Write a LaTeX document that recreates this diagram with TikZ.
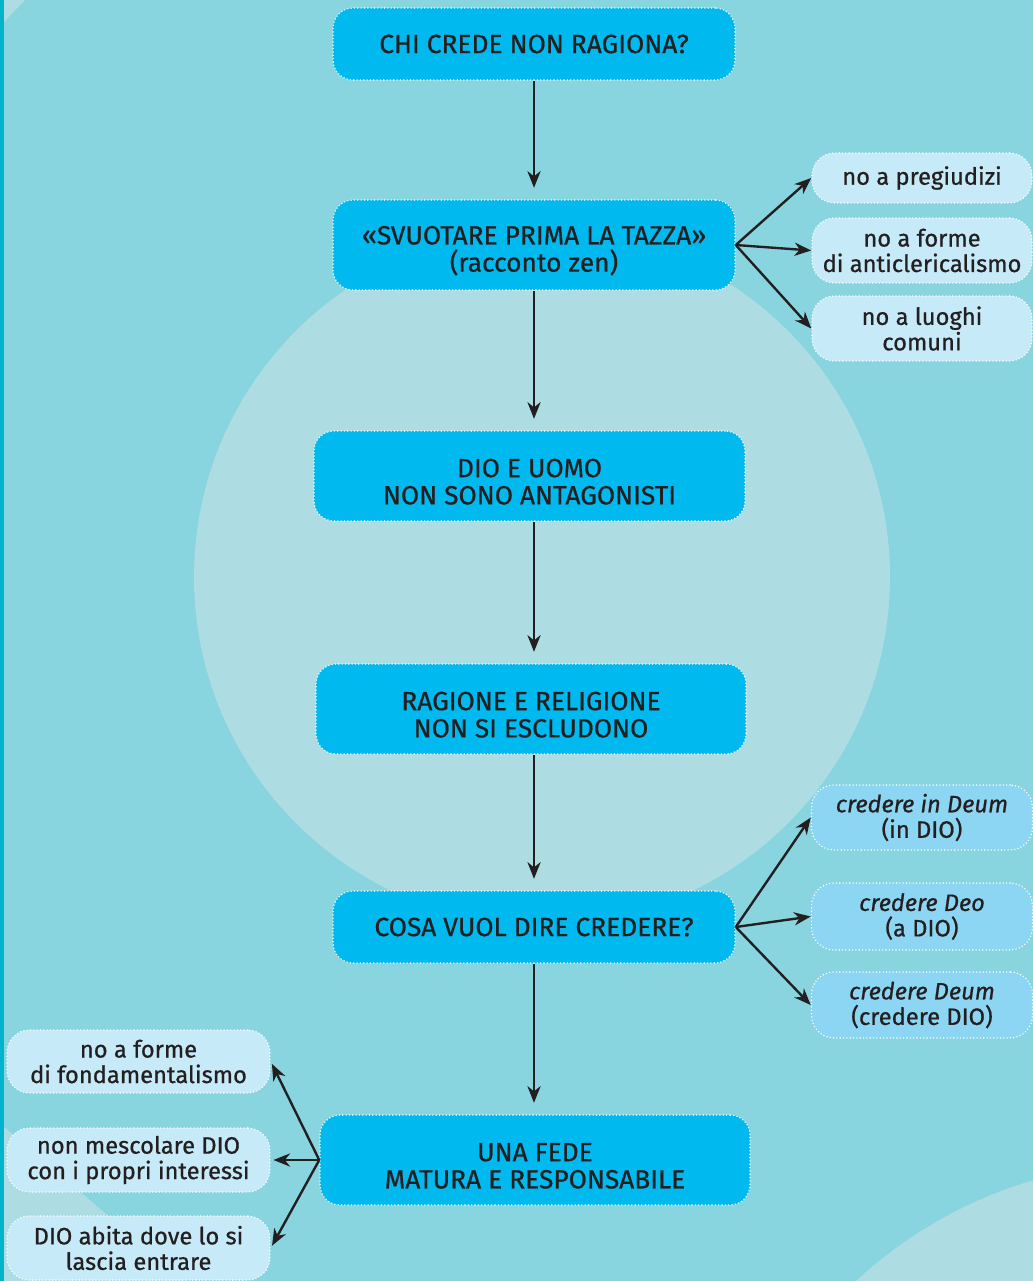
\documentclass[tikz,border=0pt]{standalone}
\usepackage{fontspec}
\setmainfont{Fira Sans}[FakeBold=0.7]
\usetikzlibrary{arrows.meta}
\definecolor{bgcyan}{HTML}{88D4DF}
\definecolor{lightcyan}{HTML}{ADDDE3}
\definecolor{stripcyan}{HTML}{00B4CC}
\definecolor{mainblue}{HTML}{00B9EF}
\definecolor{paleblue}{HTML}{C7EAF8}
\definecolor{midblue}{HTML}{8CD6F3}
\definecolor{ink}{HTML}{231F20}
\newcommand{\topgap}{\rule{0pt}{17pt}}
\begin{document}
\begin{tikzpicture}[x=0.02cm, y=-0.02cm, >={Stealth[length=9.5pt,width=7.5pt,inset=3pt]},
  line width=1.35pt, draw=ink,
  dotborder/.style={draw=white, line width=0.9pt, dash pattern=on 0pt off 1.9pt, line cap=round,
    align=center, text=ink, inner sep=0pt},
  mainbox/.style={dotborder, fill=mainblue, rounded corners=0.4cm, font=\fontsize{15}{15.5}\selectfont,
    minimum height=1.44cm},
  tallbox/.style={mainbox, minimum height=1.8cm},
  sidebox/.style={dotborder, fill=paleblue, rounded corners=0.45cm, font=\fontsize{13.5}{14.5}\selectfont},
  latinbox/.style={sidebox, fill=midblue}]
\useasboundingbox (0,0) rectangle (1033,1281);
% background
\fill[bgcyan] (0,0) rectangle (1033,1281);
\fill[lightcyan] (542,577) circle (348);
\fill[lightcyan] (4,22) -- (25,0) -- (4,0) -- cycle;
\fill[lightcyan] (4,1127) -- (185,1281) -- (4,1281) -- cycle;
\begin{scope}
  \clip (0,0) rectangle (1033,1281);
  \fill[lightcyan] (1160,1610) circle (448);
\end{scope}
\fill[stripcyan] (0,0) rectangle (4,1281);

% main column
\node[mainbox, minimum width=8.04cm] (q) at (534,44) {CHI CREDE NON RAGIONA?};
\node[tallbox, minimum width=8.04cm] (tazza) at (534,245) {\topgap«SVUOTARE PRIMA LA TAZZA»\\(racconto zen)};
\node[tallbox, minimum width=8.62cm] (dio) at (529.5,476) {\topgap DIO E UOMO\\NON SONO ANTAGONISTI};
\node[tallbox, minimum width=8.6cm] (ragione) at (531,709) {\topgap RAGIONE E RELIGIONE\\NON SI ESCLUDONO};
\node[mainbox, minimum width=8.04cm] (credere) at (534,927) {COSA VUOL DIRE CREDERE?};
\node[tallbox, minimum width=8.6cm] (fede) at (535,1160) {\topgap UNA FEDE\\MATURA E RESPONSABILE};

% side boxes
\node[sidebox, minimum width=4.4cm, minimum height=1.0cm] (preg) at (922,178) {no a pregiudizi};
\node[sidebox, minimum width=4.4cm, minimum height=1.3cm] (anti) at (922,250.5) {no a forme\\di anticlericalismo};
\node[sidebox, minimum width=4.4cm, minimum height=1.3cm] (luoghi) at (922,328.5) {no a luoghi\\comuni};
\node[latinbox, minimum width=4.42cm, minimum height=1.3cm] (cin) at (922,817.5) {\textit{credere in Deum}\\(in DIO)};
\node[latinbox, minimum width=4.42cm, minimum height=1.34cm] (cdeo) at (922,916.5) {\textit{credere Deo}\\(a DIO)};
\node[latinbox, minimum width=4.42cm, minimum height=1.32cm] (cdeum) at (922,1005) {\textit{credere Deum}\\(credere DIO)};
\node[sidebox, minimum width=5.26cm, minimum height=1.26cm] (fond) at (138.5,1061.5) {no a forme\\di fondamentalismo};
\node[sidebox, minimum width=5.26cm, minimum height=1.28cm] (mesc) at (138.5,1160) {non mescolare DIO\\con i propri interessi};
\node[sidebox, minimum width=5.26cm, minimum height=1.28cm] (abita) at (138.5,1248) {DIO abita dove lo si\\lascia entrare};

% arrows
\draw[->, shorten >=6.5pt] (q.south) -- (q.south |- tazza.north);
\draw[->, shorten >=6.5pt] (tazza.south) -- (tazza.south |- dio.north);
\draw[->, shorten >=6.5pt] (dio.south -| tazza.south) -- (tazza.south |- ragione.north);
\draw[->, shorten >=6.5pt] (ragione.south -| tazza.south) -- (tazza.south |- credere.north);
\draw[->, shorten >=6.5pt] (credere.south) -- (credere.south |- fede.north);
\draw[->] (tazza.east) -- (preg.west);
\draw[->] (tazza.east) -- (anti.west);
\draw[->] (tazza.east) -- (luoghi.west);
\draw[->] (credere.east) -- (cin.west);
\draw[->] (credere.east) -- (cdeo.west);
\draw[->] (credere.east) -- (cdeum.west);
\draw[->, shorten >=1.5pt] (fede.west) -- (fond.east);
\draw[->, shorten >=1.5pt] (fede.west) -- (mesc.east);
\draw[->, shorten >=1.5pt] (fede.west) -- (abita.east);
\end{tikzpicture}
\end{document}
